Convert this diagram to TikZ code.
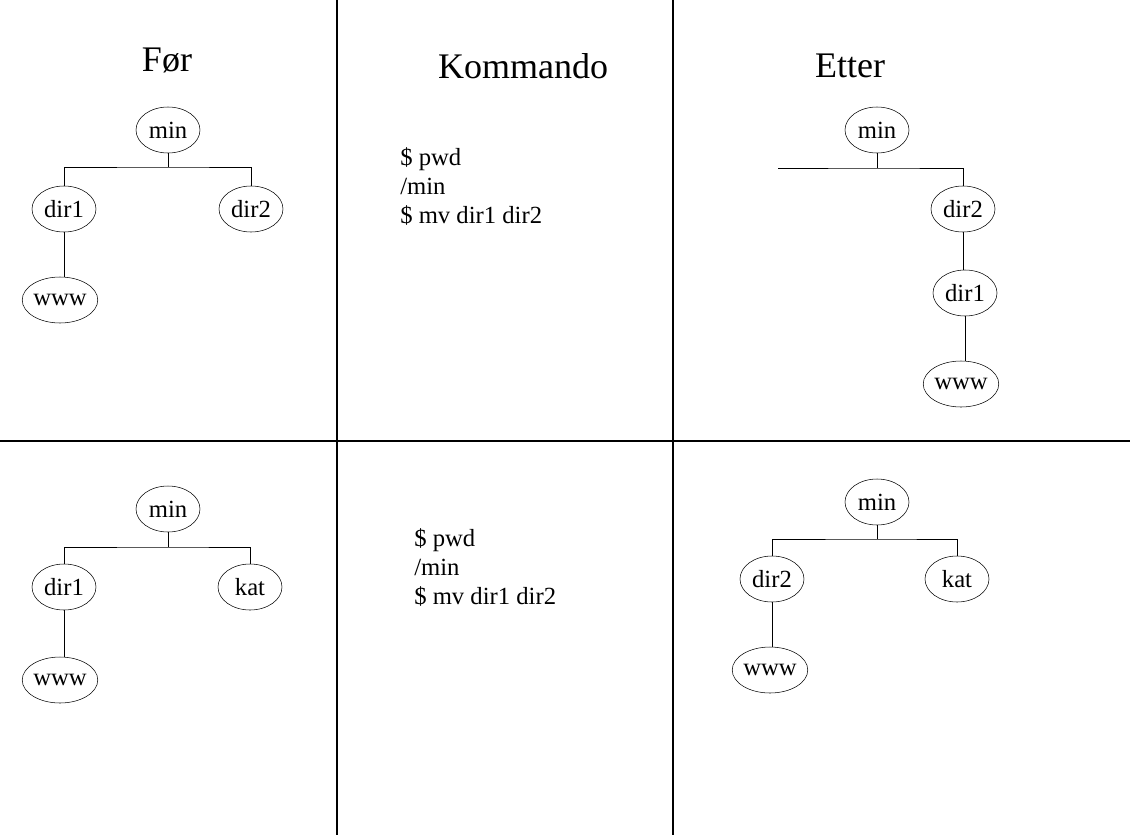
\documentclass[tikz,border=0pt]{standalone}
\usepackage{fontspec}
\setmainfont{Liberation Serif}
\usetikzlibrary{shapes.geometric}
\begin{document}
\begin{tikzpicture}[x=0.75pt,y=-0.75pt,
  dirn/.style={draw,ellipse,minimum width=64*0.75pt,minimum height=46*0.75pt,inner sep=0pt,font=\fontsize{18.5}{18.5}\selectfont},
  ttl/.style={font=\fontsize{27}{27}\selectfont},
  cmd/.style={align=left,anchor=north west,font=\fontsize{18.5}{22}\selectfont,inner sep=0pt},
  ln/.style={draw,line width=0.6pt}]
\useasboundingbox (0,0) rectangle (1130,835);
\draw[line width=1pt] (337,0) -- (337,835) (673,0) -- (673,835) (0,441) -- (1130,441);
\node[ttl] (t1) at (167,60) {Før};
\node[ttl] (t2) at (523,66) {Kommando};
\node[ttl] (t3) at (850,66) {Etter};
% top left
\node[dirn] (a0) at (168,130) {min};
\node[dirn] (a1) at (64,209) {dir1};
\node[dirn] (a2) at (251,209) {dir2};
\node[dirn] (a3) at (60,300) {www};
\coordinate (ah) at (168,167);
\draw[ln] (a0.south) -- (ah);
\draw[ln] (a1.north) |- (ah) -| (a2.north);
\draw[ln] (a1.south) -- (a1.south |- a3.north);
% top middle
\node[cmd] (c1) at (400,147) {\$ pwd\\/min\\\$ mv dir1 dir2};
% top right
\node[dirn] (b0) at (877,130) {min};
\node[dirn] (b1) at (963,209) {dir2};
\node[dirn] (b2) at (965,293) {dir1};
\node[dirn] (b3) at (961,384) {www};
\coordinate (bl) at (778,168);
\coordinate (bh) at (877,168);
\draw[ln] (b0.south) -- (bh);
\draw[ln] (bl) -- (bh) -| (b1.north);
\draw[ln] (b1.south) -- (b1.south |- b2.north);
\draw[ln] (b2.south) -- (b2.south |- b3.north);
% bottom left
\node[dirn] (d0) at (168,509) {min};
\node[dirn] (d1) at (64,587) {dir1};
\node[dirn] (d2) at (250,587) {kat};
\node[dirn] (d3) at (60,680) {www};
\coordinate (dh) at (168,547);
\draw[ln] (d0.south) -- (dh);
\draw[ln] (d1.north) |- (dh) -| (d2.north);
\draw[ln] (d1.south) -- (d1.south |- d3.north);
% bottom middle
\node[cmd] (c2) at (414,528) {\$ pwd\\/min\\\$ mv dir1 dir2};
% bottom right
\node[dirn] (e0) at (877,502) {min};
\node[dirn] (e1) at (772,579) {dir2};
\node[dirn] (e2) at (957,579) {kat};
\node[dirn] (e3) at (770,670) {www};
\coordinate (eh) at (877,539);
\draw[ln] (e0.south) -- (eh);
\draw[ln] (e1.north) |- (eh) -| (e2.north);
\draw[ln] (e1.south) -- (e1.south |- e3.north);
\end{tikzpicture}
\end{document}
